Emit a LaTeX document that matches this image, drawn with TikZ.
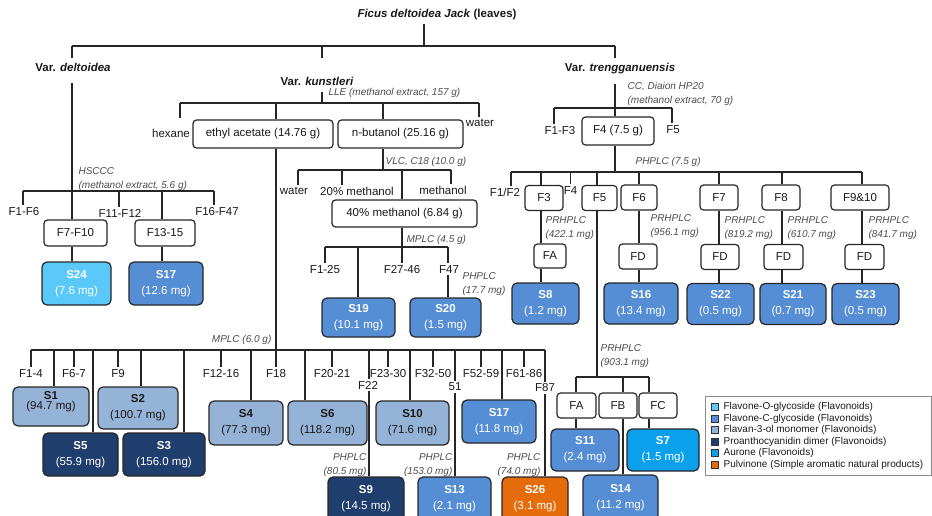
\documentclass[tikz,border=0pt]{standalone}
\usepackage{fontspec}
\setmainfont{Liberation Sans}

\definecolor{cOglc}{RGB}{90,200,248}
\definecolor{cCglc}{RGB}{85,142,213}
\definecolor{cFlav}{RGB}{149,179,215}
\definecolor{cProa}{RGB}{31,62,110}
\definecolor{cAur}{RGB}{10,160,235}
\definecolor{cPulv}{RGB}{228,108,10}

\tikzset{every picture/.style={line width=1.2pt, draw=black!85}}
\tikzset{
  hd/.style={inner sep=5pt, anchor=north, font=\fontsize{11.5}{13}\selectfont\bfseries, text=black!90},
  frac/.style={draw=black!85, rounded corners=3.5pt, fill=white, inner sep=0pt, font=\fontsize{11.5}{13}\selectfont, text=black!90},
  cmpd/.style={draw=black!85, rounded corners=5pt, inner sep=0pt, align=center, font=\fontsize{11.5}{16}\selectfont, text=white},
  sz/.style 2 args={minimum width=#1pt, minimum height=#2pt},
  lbl/.style={inner sep=1.5pt, anchor=north, font=\fontsize{11.5}{13}\selectfont, text=black!90},
  note/.style={inner sep=0pt, align=left, font=\fontsize{10}{14}\selectfont\itshape, text=black!70},
  key/.style={draw=black!80, line width=0.8pt, minimum size=7pt, inner sep=0pt},
  keytxt/.style={anchor=west, inner sep=0pt, font=\fontsize{10}{12}\selectfont, text=black!90},
}

\begin{document}
\begin{tikzpicture}[x=1pt,y=1pt,yscale=-1]
\useasboundingbox (0,0) rectangle (932,516);

% Text Node
\node[font=\fontsize{11.5}{13}\selectfont\bfseries, text=black!90] (ttl) at (437,15) {\textit{Ficus deltoidea Jack} (leaves)};
% Text Node
\node[hd] (vdel) at (73,58) {Var. \textit{deltoidea}};
% Text Node
\node[hd] (vkun) at (317,72) {Var. \textit{kunstleri}};
% Text Node
\node[hd] (vtre) at (620,58) {Var. \textit{trengganuensis}};

%Straight Lines
\coordinate (tJ) at (424,46);
\coordinate (tL) at (72,46);
\coordinate (tK) at (322,46);
\coordinate (tR) at (615,46);
\draw (ttl.south -| tJ) -- (tJ);
\draw (tL) -- (tR);
\draw (tL) -- (vdel.north -| tL);
\draw (tK) -- (tK |- vdel.north);
\draw (tR) -- (vtre.north -| tR);

%%%%%%%% Var. deltoidea
\coordinate (hsJ) at (72,191);
\coordinate (hsL) at (23,191);
\coordinate (hsA) at (119,191);
\coordinate (hsB) at (162,191);
\coordinate (hsR) at (214,191);
\draw ([yshift=5pt]vdel.south -| hsJ) -- (hsJ);
\draw (hsL) -- (hsR);
% Text Node
\node[note, anchor=north west] (nHS) at (78,167) {HSCCC\\(methanol extract, 5.6 g)};
\node[lbl] (lF1F6) at (24,205) {F1-F6};
\node[lbl] (lF1112) at (120,207) {F11-F12};
\node[lbl] (lF1647) at (217,205) {F16-F47};
%Shape: Rectangle
\node[frac, sz={63}{26}] (f710) at (75.5,233) {F7-F10};
\node[frac, sz={60}{26}] (f1315) at (165,233) {F13-15};
\node[cmpd, sz={69}{43}, fill=cOglc] (s24) at (76.5,283.5) {\textbf{S24}\\(7.6 mg)};
\node[cmpd, sz={74}{43}, fill=cCglc] (s17a) at (166,283.5) {\textbf{S17}\\(12.6 mg)};
\draw (hsL) -- (lF1F6.north -| hsL);
\draw (hsJ) -- (f710.north -| hsJ);
\draw (hsA) -- (lF1112.north -| hsA);
\draw (hsB) -- (f1315.north -| hsB);
\draw (hsR) -- (lF1647.north -| hsR);
\draw (f710.south -| hsJ) -- (s24.north -| hsJ);
\draw (f1315.south -| hsB) -- (s17a.north -| hsB);

%%%%%%%% Var. kunstleri
\coordinate (llJ) at (322,103);
\coordinate (llL) at (180,103);
\coordinate (llA) at (276,103);
\coordinate (llB) at (383,103);
\coordinate (llR) at (479,103);
\coordinate (hexE) at (180,118);
\draw (vkun.south -| llJ) -- (llJ);
\draw (llL) -- (llR);
% Text Node
\node[note, anchor=north west] (nLLE) at (328,88) {LLE (methanol extract, 157 g)};
\node[lbl, anchor=east] (lHex) at (192,133) {hexane};
\node[lbl] (lWat1) at (480,117) {water};
%Shape: Rectangle
\node[frac, sz={140}{28}] (ea) at (263,134) {ethyl acetate (14.76 g)};
\node[frac, sz={125}{28}] (nb) at (400.5,134) {n-butanol (25.16 g)};
\draw (llL) -- (hexE);
\draw (llA) -- (ea.north -| llA);
\draw (llB) -- (nb.north -| llB);
\draw (llR) -- (lWat1.north -| llR);

% n-butanol
\coordinate (vlJ) at (383,170);
\coordinate (vlL) at (298,170);
\coordinate (vlA) at (342,170);
\coordinate (vlB) at (402,170);
\coordinate (vlR) at (451,170);
\draw (nb.south -| vlJ) -- (vlJ);
\draw (vlL) -- (vlR);
\node[note, anchor=north west] (nVLC) at (385,157) {VLC, C18 (10.0 g)};
\node[lbl] (lWat2) at (294,185) {water};
\node[lbl] (l20m) at (357,185) {20\% methanol};
\node[lbl] (lMeth) at (443,184) {methanol};
\node[frac, sz={145}{27}] (m40) at (404.5,213.5) {40\% methanol (6.84 g)};
\draw (vlL) -- (lWat2.north -| vlL);
\draw (vlA) -- (l20m.north -| vlA);
\draw (vlB) -- (m40.north -| vlB);
\draw (vlR) -- (lMeth.north -| vlR);

\coordinate (mpJ) at (402,247);
\coordinate (mpL) at (325,247);
\coordinate (mpA) at (358,247);
\coordinate (mpR) at (448,247);
\draw (m40.south -| mpJ) -- (mpJ);
\draw (mpL) -- (mpR);
\node[note, anchor=north west] (nMP1) at (406,235) {MPLC (4.5 g)};
\node[lbl] (lF125) at (325,263) {F1-25};
\node[lbl] (lF2746) at (402,263) {F27-46};
\node[lbl] (lF47) at (449,263) {F47};
\node[note, anchor=north west] (nPH1) at (462,272) {PHPLC\\(17.7 mg)};
\node[cmpd, sz={73}{39}, fill=cCglc] (s19) at (358.5,317.5) {\textbf{S19}\\(10.1 mg)};
\node[cmpd, sz={71}{39}, fill=cCglc] (s20) at (445.5,317.5) {\textbf{S20}\\(1.5 mg)};
\draw (mpL) -- (lF125.north -| mpL);
\draw (mpA) -- (s19.north -| mpA);
\draw (mpJ) -- (lF2746.north -| mpJ);
\draw (mpR) -- (lF47.north -| mpR);
\draw (lF47.south -| mpR) -- (s20.north -| mpR);

% ethyl acetate
\coordinate (mlJ) at (276,350);
\coordinate (mlL) at (31,350);
\coordinate (mlR) at (545,350);
\draw (ea.south -| mlJ) -- (mlJ);
\draw (mlL) -- (mlR);
\node[note, anchor=north east] (nML) at (272,335) {MPLC (6.0 g)};
% Text Node
\node[lbl] (lF14) at (31,367) {F1-4};
\node[lbl] (lF67) at (74,367) {F6-7};
\node[lbl] (lF9) at (118,367) {F9};
\node[lbl] (lF1216) at (221,367) {F12-16};
\node[lbl] (lF18) at (276,367) {F18};
\node[lbl] (lF2021) at (332,367) {F20-21};
\node[lbl] (lF2330) at (388,367) {F23-30};
\node[lbl] (lF3250) at (433,367) {F32-50};
\node[lbl] (lF5259) at (481,367) {F52-59};
\node[lbl] (lF6186) at (524,367) {F61-86};
\node[lbl, anchor=center] (lF22) at (368,385) {F22};
\node[lbl, anchor=center] (l51) at (455,387) {51};
\node[lbl, anchor=center] (lF87) at (545,388) {F87};
\foreach \n in {lF14,lF67,lF9,lF1216,lF18,lF2021,lF2330,lF3250,lF5259,lF6186}
  \draw (\n.north) -- (\n.north |- mlJ);
%Shape: Rectangle
\node[cmpd, sz={76}{39}, fill=cFlav] (s1) at (51,406.5) {};
\node[inner sep=0pt, align=center, font=\fontsize{11.5}{10}\selectfont, text=black!90] (s1t) at (51,402) {\textbf{S1}\\(94.7 mg)};
\node[cmpd, sz={80}{42}, fill=cFlav, text=black!90] (s2) at (138,408) {\textbf{S2}\\(100.7 mg)};
\node[cmpd, sz={75}{43}, fill=cProa] (s5) at (80.5,454.5) {\textbf{S5}\\(55.9 mg)};
\node[cmpd, sz={82}{43}, fill=cProa] (s3) at (164,454.5) {\textbf{S3}\\(156.0 mg)};
\node[cmpd, sz={74}{44}, fill=cFlav, text=black!90] (s4) at (246,423) {\textbf{S4}\\(77.3 mg)};
\node[cmpd, sz={79}{44}, fill=cFlav, text=black!90] (s6) at (327.5,423) {\textbf{S6}\\(118.2 mg)};
\node[cmpd, sz={73}{44}, fill=cFlav, text=black!90] (s10) at (412.5,423) {\textbf{S10}\\(71.6 mg)};
\node[cmpd, sz={74}{43}, fill=cCglc] (s17b) at (499,421.5) {\textbf{S17}\\(11.8 mg)};
\node[cmpd, sz={76}{44}, fill=cProa] (s9) at (366,499) {\textbf{S9}\\(14.5 mg)};
\node[cmpd, sz={73}{44}, fill=cCglc] (s13) at (454.5,499) {\textbf{S13}\\(2.1 mg)};
\node[cmpd, sz={66}{44}, fill=cPulv] (s26) at (535,499) {\textbf{S26}\\(3.1 mg)};
\node[note, anchor=north east, align=right] (nPH2) at (367,453) {PHPLC\\(80.5 mg)};
\node[note, anchor=north east, align=right] (nPH3) at (453,453) {PHPLC\\(153.0 mg)};
\node[note, anchor=north east, align=right] (nPH4) at (541,453) {PHPLC\\(74.0 mg)};
%Straight Lines
\coordinate (dS1) at (54,350);
\coordinate (dS5) at (93,350);
\coordinate (dS2) at (141,350);
\coordinate (dS3) at (184,350);
\coordinate (dS4) at (251,350);
\coordinate (dS6) at (305,350);
\coordinate (dS9) at (369,350);
\coordinate (dS10) at (410,350);
\coordinate (dS13) at (455,350);
\coordinate (dS17) at (502,350);
\draw (dS1) -- (s1.north -| dS1);
\draw (dS5) -- (s5.north -| dS5);
\draw (dS2) -- (s2.north -| dS2);
\draw (dS3) -- (s3.north -| dS3);
\draw (dS4) -- (s4.north -| dS4);
\draw (dS6) -- (s6.north -| dS6);
\draw (dS9) -- (lF22.north -| dS9);
\draw (lF22.south -| dS9) -- (s9.north -| dS9);
\draw (dS10) -- (s10.north -| dS10);
\draw (dS13) -- (l51.north -| dS13);
\draw (l51.south -| dS13) -- (s13.north -| dS13);
\draw (dS17) -- (s17b.north -| dS17);
\draw (mlR) -- (lF87.north -| mlR);
\draw (lF87.south -| mlR) -- (s26.north -| mlR);

%%%%%%%% Var. trengganuensis
\coordinate (ccJ) at (615,108);
\coordinate (ccL) at (554,108);
\coordinate (ccR) at (672,108);
\draw ([yshift=4pt]vtre.south -| ccJ) -- (ccJ);
\draw (ccL) -- (ccR);
\node[note, anchor=north west] (nCC) at (627,82) {CC, Diaion HP20\\(methanol extract, 70 g)};
\node[lbl] (lF13) at (560,124) {F1-F3};
\node[lbl] (lF5) at (673,123) {F5};
\node[frac, sz={72}{28}] (f4) at (618,131) {F4 (7.5 g)};
\draw (ccL) -- (ccL |- lF13.north);
\draw (ccJ) -- (f4.north -| ccJ);
\draw (ccR) -- (ccR |- lF5.north);

\coordinate (phJ) at (615,172);
\coordinate (phL) at (511,172);
\coordinate (phA) at (541,172);
\coordinate (phB) at (597,172);
\coordinate (phC) at (639,172);
\coordinate (phD) at (719,172);
\coordinate (phE) at (782,172);
\coordinate (phR) at (862,172);
\draw (f4.south -| phJ) -- (phJ);
\draw (phL) -- (phR);
\node[note, anchor=north west] (nPH5) at (635,157) {PHPLC (7.5 g)};
\node[lbl] (lF12) at (505,186) {F1/F2};
\node[frac, sz={38}{25}] (f3) at (544,198) {F3};
\node[frac, sz={35}{25}] (f5) at (599.5,198) {F5};
\node[frac, sz={36}{25}] (f6) at (639,197.5) {F6};
\node[frac, sz={38}{25}] (f7) at (719,197.5) {F7};
\node[frac, sz={38}{25}] (f8) at (781,197.5) {F8};
\node[frac, sz={58}{25}] (f910) at (860,197.5) {F9\&10};
\node[lbl] (lF4) at (570.5,184) {F4};
\draw (phL) -- (phL |- lF12.north);
\draw (phA) -- (f3.north -| phA);
\draw (lF4.north) -- (lF4.north |- phJ);
\draw (phB) -- (f5.north -| phB);
\draw (phC) -- (f6.north -| phC);
\draw (phD) -- (f7.north -| phD);
\draw (phE) -- (f8.north -| phE);
\draw (phR) -- (f910.north -| phR);

% F3
\node[note, anchor=north west] (nPR1) at (545,216) {PRHPLC\\(422.1 mg)};
\node[frac, sz={32}{24}] (fa3) at (550,256) {FA};
\node[cmpd, sz={67}{41}, fill=cCglc] (s8) at (545.5,303.5) {\textbf{S8}\\(1.2 mg)};
\draw (f3.south -| phA) -- (fa3.north -| phA);
\draw (fa3.south -| phA) -- (s8.north -| phA);
% F6
\node[note, anchor=north west] (nPR2) at (650,214) {PRHPLC\\(956.1 mg)};
\node[frac, sz={38}{25}] (fd6) at (638,256.5) {FD};
\node[cmpd, sz={74}{41}, fill=cCglc] (s16) at (641,303.5) {\textbf{S16}\\(13.4 mg)};
\draw (f6.south -| phC) -- (fd6.north -| phC);
\draw (fd6.south -| phC) -- (s16.north -| phC);
% F7
\node[note, anchor=north west] (nPR3) at (724,216) {PRHPLC\\(819.2 mg)};
\node[frac, sz={38}{25}] (fd7) at (720,257) {FD};
\node[cmpd, sz={67}{41}, fill=cCglc] (s22) at (720.5,304) {\textbf{S22}\\(0.5 mg)};
\draw (f7.south -| phD) -- (fd7.north -| phD);
\draw (fd7.south -| phD) -- (s22.north -| phD);
% F8
\node[note, anchor=north west] (nPR4) at (787,216) {PRHPLC\\(610.7 mg)};
\node[frac, sz={39}{25}] (fd8) at (783.5,257) {FD};
\node[cmpd, sz={66}{41}, fill=cCglc] (s21) at (793,304) {\textbf{S21}\\(0.7 mg)};
\draw (f8.south -| phE) -- (fd8.north -| phE);
\draw (fd8.south -| phE) -- (s21.north -| phE);
% F9&10
\node[note, anchor=north west] (nPR5) at (868,216) {PRHPLC\\(841.7 mg)};
\node[frac, sz={39}{25}] (fd910) at (864.5,257) {FD};
\node[cmpd, sz={67}{41}, fill=cCglc] (s23) at (865.5,304) {\textbf{S23}\\(0.5 mg)};
\draw (f910.south -| phR) -- (fd910.north -| phR);
\draw (fd910.south -| phR) -- (s23.north -| phR);

% F5
\coordinate (prJ) at (597,377);
\coordinate (prL) at (576,377);
\coordinate (prB) at (623,377);
\coordinate (prR) at (649,377);
\draw (f5.south -| prJ) -- (prJ);
\draw (prL) -- (prR);
\node[note, anchor=north west] (nPR6) at (600,344) {PRHPLC\\(903.1 mg)};
\node[frac, sz={39}{25}] (faB) at (576.5,405.5) {FA};
\node[frac, sz={38}{25}] (fbB) at (618,405.5) {FB};
\node[frac, sz={38}{25}] (fcB) at (658,405.5) {FC};
\node[cmpd, sz={68}{42}, fill=cCglc] (s11) at (585,450) {\textbf{S11}\\(2.4 mg)};
\node[cmpd, sz={72}{42}, fill=cAur] (s7) at (663,450) {\textbf{S7}\\(1.5 mg)};
\node[cmpd, sz={75}{45}, fill=cCglc] (s14) at (620.5,497.5) {\textbf{S14}\\(11.2 mg)};
\draw (prL) -- (faB.north -| prL);
\draw (prB) -- (fbB.north -| prB);
\draw (prR) -- (fcB.north -| prR);
\draw (faB.south -| prL) -- (s11.north -| prL);
\draw (fbB.south -| prB) -- (s14.north -| prB);
\draw (fcB.south -| prR) -- (s7.north -| prR);

%%%%%%%% legend
\node[draw=black!45, line width=1pt, minimum width=226pt, minimum height=79pt, inner sep=0pt] (leg) at (818,435.5) {};
\node[key, fill=cOglc] (k1) at (715,407) {};
\node[key, fill=cCglc] (k2) at (715,418.5) {};
\node[key, fill=cFlav] (k3) at (715,430) {};
\node[key, fill=cProa] (k4) at (715,441.5) {};
\node[key, fill=cAur] (k5) at (715,453) {};
\node[key, fill=cPulv] (k6) at (715,464.5) {};
\node[keytxt] (t1) at (723,407) {Flavone-O-glycoside (Flavonoids)};
\node[keytxt] (t2) at (723,418.5) {Flavone-C-glycoside (Flavonoids)};
\node[keytxt] (t3) at (723,430) {Flavan-3-ol monomer (Flavonoids)};
\node[keytxt] (t4) at (723,441.5) {Proanthocyanidin dimer (Flavonoids)};
\node[keytxt] (t5) at (723,453) {Aurone (Flavonoids)};
\node[keytxt] (t6) at (723,464.5) {Pulvinone (Simple aromatic natural products)};

\end{tikzpicture}
\end{document}
